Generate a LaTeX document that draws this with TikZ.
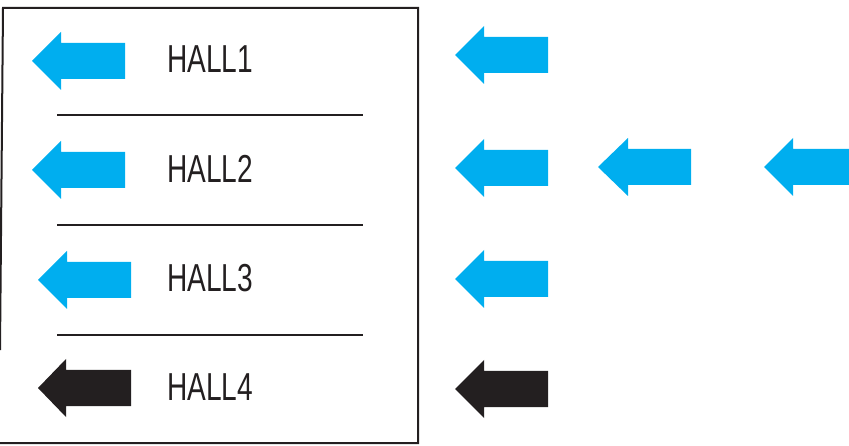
\documentclass[tikz,border=0pt]{standalone}
\usepackage{fontspec}
\setmainfont{Liberation Sans}
\definecolor{hallblue}{HTML}{00AEEF}
\definecolor{hallblack}{HTML}{231F20}
% arrow: #1 tip x, #2 centre y, #3 head base x, #4 end x, #5 colour
\newcommand{\hallarrow}[5]{%
  \fill[#5] (#1,#2) -- (#3,#2-29) -- (#3,#2-18) -- (#4,#2-18) -- (#4,#2+18)
    -- (#3,#2+18) -- (#3,#2+29) -- cycle;}
\tikzset{
  frame/.style={draw=hallblack, line width=2pt},
  sepline/.style={draw=hallblack, line width=2pt},
  halllabel/.style={anchor=base west, inner sep=0pt, text=hallblack,
    font=\fontsize{39}{39}\selectfont},
}
\begin{document}
\begin{tikzpicture}[x=1pt,y=-1pt]
\useasboundingbox (0,0) rectangle (849,446);
\clip (0,0) rectangle (849,446);
% frame
\draw[frame] (0,350) -- (3,8) -- (418,8) -- (418,443) -- (0,443);
% separators
\draw[sepline] (57,115) -- (363,115);
\draw[sepline] (57,225) -- (363,225);
\draw[sepline] (57,335) -- (363,335);
% left arrows
\hallarrow{32}{61}{61}{125}{hallblue}
\hallarrow{32}{170}{61}{125}{hallblue}
\hallarrow{38}{280}{67}{131}{hallblue}
\hallarrow{38}{388}{66}{131}{hallblack}
% labels
\node[halllabel] (h1) at (167,73) {\scalebox{0.72}[1]{HALL1}};
\node[halllabel] (h2) at (167,183) {\scalebox{0.72}[1]{HALL2}};
\node[halllabel] (h3) at (167,292) {\scalebox{0.72}[1]{HALL3}};
\node[halllabel] (h4) at (167,400) {\scalebox{0.72}[1]{HALL4}};
% right arrows
\hallarrow{455}{55}{484}{548}{hallblue}
\hallarrow{455}{168}{484}{548}{hallblue}
\hallarrow{598}{167}{628}{691}{hallblue}
\hallarrow{764}{167}{793}{860}{hallblue}
\hallarrow{455}{279}{484}{548}{hallblue}
\hallarrow{455}{389}{484}{548}{hallblack}
\end{tikzpicture}
\end{document}
